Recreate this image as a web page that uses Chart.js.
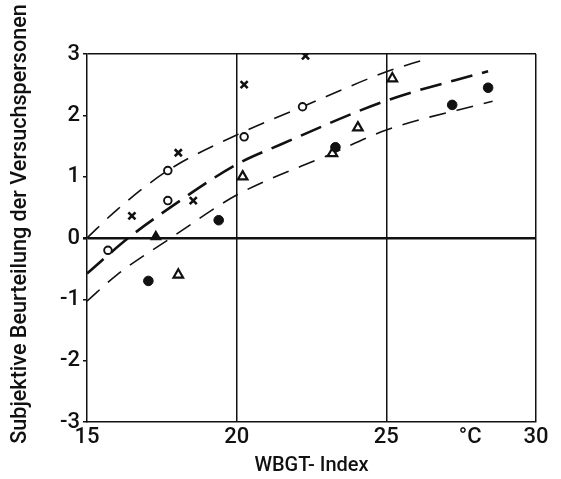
<!DOCTYPE html>
<html lang="de">

<head>
    <meta charset="utf-8">
    <script src="https://cdn.jsdelivr.net/npm/chart.js@4.4.1/dist/chart.umd.min.js"></script>
    <title> WBGT-Index </title>
    <style>
        html, body { margin: 0; padding: 0; background: #fff; }
        #wrap { width: 561px; height: 479px; }
    </style>
</head>

<body>
    <div id="wrap"><canvas id="chart"></canvas></div>

    <script>
        // Messpunkte
        const crossX = [16.5, 18.05, 18.55, 20.25, 22.3];
        const crossY = [0.36, 1.39, 0.61, 2.5, 2.97];

        const openCircleX = [15.7, 17.7, 17.7, 20.25, 22.2];
        const openCircleY = [-0.2, 0.61, 1.1, 1.65, 2.14];

        const dotX = [17.05, 19.4, 23.3, 27.2, 28.4];
        const dotY = [-0.7, 0.29, 1.48, 2.17, 2.45];

        const openTriX = [18.05, 20.2, 23.2, 24.05, 25.2];
        const openTriY = [-0.6, 1.0, 1.38, 1.8, 2.6];

        const fullTriX = [17.3];
        const fullTriY = [0.02];

        // Kurven
        const upperX = [15, 16, 17.7, 20, 22.2, 25, 26.35];
        const upperY = [0, 0.46, 1.1, 1.68, 2.14, 2.71, 2.92];

        const middleX = [15, 16.38, 17.7, 20, 21.45, 25, 28.4];
        const middleY = [-0.58, 0, 0.47, 1.2, 1.52, 2.24, 2.72];

        const lowerX = [15, 16, 17.8, 20, 23.2, 25, 28.55];
        const lowerY = [-1.03, -0.6, 0, 0.7, 1.38, 1.76, 2.23];

        // Achsen
        const xTicks = [15, 20, 25, 27.8, 30];
        const xTickLabels = ['15', '20', '25', '°C', '30'];
        const yTicks = [-3, -2, -1, 0, 1, 2, 3];
        const yTitle = 'Subjektive Beurteilung der Versuchspersonen';

        const ink = '#111';
        const fontName = "Roboto, 'Liberation Sans', sans-serif";

        function pts(xs, ys) {
            return xs.map((x, i) => ({ x: x, y: ys[i] }));
        }

        function curve(xs, ys, width, dash) {
            return {
                data: pts(xs, ys),
                showLine: true,
                pointRadius: 0,
                borderColor: ink,
                borderWidth: width,
                borderDash: dash,
                cubicInterpolationMode: 'monotone',
                fill: false,
                order: 2
            };
        }

        function marks(xs, ys, style, radius, bg, bw) {
            return {
                data: pts(xs, ys),
                showLine: false,
                pointStyle: style,
                pointRadius: radius,
                pointBackgroundColor: bg,
                pointBorderColor: ink,
                pointBorderWidth: bw,
                order: 1
            };
        }

        let ds = [
            curve(upperX, upperY, 1.6, [17, 11]),
            curve(middleX, middleY, 2.6, [22, 10]),
            curve(lowerX, lowerY, 1.6, [17, 11]),
            marks(crossX, crossY, 'crossRot', 5, ink, 2.6),
            marks(openCircleX, openCircleY, 'circle', 3.8, '#fff', 1.9),
            marks(dotX, dotY, 'circle', 4.8, ink, 1),
            marks(openTriX, openTriY, 'triangle', 5.5, '#fff', 2.2),
            marks(fullTriX, fullTriY, 'triangle', 5.5, ink, 1.5)
        ];

        // y-Titel etwas oberhalb der Mitte, wie im Original
        const yTitlePlugin = {
            id: 'yTitle',
            afterDraw(chart) {
                const c = chart.ctx;
                c.save();
                c.translate(21, 224);
                c.rotate(-Math.PI / 2);
                c.fillStyle = ink;
                c.font = "500 21.6px " + fontName;
                c.textAlign = 'center';
                c.textBaseline = 'middle';
                c.fillText(yTitle, 0, 0);
                c.restore();
            }
        };

        let ctx = document.getElementById('chart').getContext('2d');

        let wbgtChart = new Chart(ctx, {
            type: 'scatter',
            data: { datasets: ds },
            plugins: [yTitlePlugin],
            options: {
                responsive: true,
                maintainAspectRatio: false,
                animation: false,
                layout: { padding: { top: 54, right: 25, left: 0, bottom: 0 } },
                plugins: {
                    legend: { display: false },
                    tooltip: { enabled: false }
                },
                scales: {
                    x: {
                        type: 'linear',
                        min: 15,
                        max: 30,
                        afterBuildTicks: (scale) => {
                            scale.ticks = xTicks.map(v => ({ value: v }));
                        },
                        afterFit: (scale) => { scale.height = 57; },
                        ticks: {
                            color: ink,
                            padding: 2,
                            maxRotation: 0,
                            autoSkip: false,
                            font: { family: fontName, size: 22, weight: 500 },
                            callback: (v) => xTickLabels[xTicks.indexOf(v)]
                        },
                        grid: {
                            drawTicks: false,
                            color: (c) => [20, 25, 30].includes(c.tick.value) ? ink : 'transparent',
                            lineWidth: 1.5
                        },
                        border: { display: true, color: ink, width: 1.5 },
                        title: {
                            display: true,
                            text: 'WBGT- Index',
                            color: ink,
                            padding: { top: 0, bottom: 1 },
                            font: { family: fontName, size: 20, weight: 500 }
                        }
                    },
                    y: {
                        type: 'linear',
                        min: -3,
                        max: 3,
                        afterBuildTicks: (scale) => {
                            scale.ticks = yTicks.map(v => ({ value: v }));
                        },
                        afterFit: (scale) => { scale.width = 87; },
                        ticks: {
                            color: ink,
                            padding: 3,
                            font: { family: fontName, size: 22, weight: 500 }
                        },
                        grid: {
                            drawTicks: true,
                            tickLength: 4,
                            tickColor: ink,
                            color: (c) => (c.tick.value === 0 || c.tick.value === 3) ? ink : 'transparent',
                            lineWidth: (c) => c.tick.value === 0 ? 2.6 : 1.5
                        },
                        border: { display: true, color: ink, width: 1.5 }
                    }
                }
            }
        });
    </script>
</body>

</html>
